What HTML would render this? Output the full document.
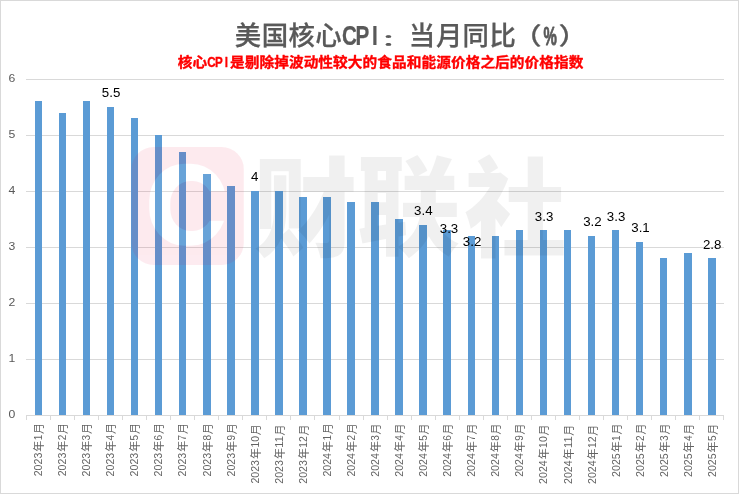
<!DOCTYPE html>
<html lang="zh-CN">
<head>
<meta charset="utf-8">
<title>美国核心CPI：当月同比（%）</title>
<style>
html,body{margin:0;padding:0;background:#fff;}
body{width:739px;height:494px;overflow:hidden;}
svg{display:block;}
text{font-family:"Liberation Sans","Noto Sans CJK SC",sans-serif;}
.wm{font-family:"Liberation Sans","Noto Sans CJK SC",sans-serif;font-weight:900;}
</style>
</head>
<body>
<svg xmlns="http://www.w3.org/2000/svg" width="739" height="494" viewBox="0 0 739 494">
<rect x="0" y="0" width="739" height="494" fill="#ffffff"/>
<rect x="0.5" y="0.5" width="738" height="493" fill="none" stroke="#d9d9d9" stroke-width="1"/>

<g fill="#d9d9d9" shape-rendering="crispEdges">
<rect x="26" y="415" width="698" height="1"/>
<rect x="26" y="359" width="698" height="1"/>
<rect x="26" y="303" width="698" height="1"/>
<rect x="26" y="247" width="698" height="1"/>
<rect x="26" y="191" width="698" height="1"/>
<rect x="26" y="135" width="698" height="1"/>
<rect x="26" y="79" width="698" height="1"/>
<rect x="26" y="415" width="1" height="5"/>
<rect x="50" y="415" width="1" height="5"/>
<rect x="74" y="415" width="1" height="5"/>
<rect x="98" y="415" width="1" height="5"/>
<rect x="122" y="415" width="1" height="5"/>
<rect x="146" y="415" width="1" height="5"/>
<rect x="170" y="415" width="1" height="5"/>
<rect x="194" y="415" width="1" height="5"/>
<rect x="218" y="415" width="1" height="5"/>
<rect x="242" y="415" width="1" height="5"/>
<rect x="266" y="415" width="1" height="5"/>
<rect x="290" y="415" width="1" height="5"/>
<rect x="314" y="415" width="1" height="5"/>
<rect x="339" y="415" width="1" height="5"/>
<rect x="363" y="415" width="1" height="5"/>
<rect x="387" y="415" width="1" height="5"/>
<rect x="411" y="415" width="1" height="5"/>
<rect x="435" y="415" width="1" height="5"/>
<rect x="459" y="415" width="1" height="5"/>
<rect x="483" y="415" width="1" height="5"/>
<rect x="507" y="415" width="1" height="5"/>
<rect x="531" y="415" width="1" height="5"/>
<rect x="555" y="415" width="1" height="5"/>
<rect x="579" y="415" width="1" height="5"/>
<rect x="603" y="415" width="1" height="5"/>
<rect x="627" y="415" width="1" height="5"/>
<rect x="651" y="415" width="1" height="5"/>
<rect x="675" y="415" width="1" height="5"/>
<rect x="699" y="415" width="1" height="5"/>
<rect x="723" y="415" width="1" height="5"/>
</g>
<g fill="#5b9bd5">
<rect x="35" y="101" width="7" height="314"/>
<rect x="59" y="113" width="7" height="302"/>
<rect x="83" y="101" width="7" height="314"/>
<rect x="107" y="107" width="7" height="308"/>
<rect x="131" y="118" width="7" height="297"/>
<rect x="155" y="135" width="7" height="280"/>
<rect x="179" y="152" width="7" height="263"/>
<rect x="203" y="174" width="8" height="241"/>
<rect x="227" y="186" width="8" height="229"/>
<rect x="251" y="191" width="8" height="224"/>
<rect x="275" y="191" width="8" height="224"/>
<rect x="299" y="197" width="8" height="218"/>
<rect x="323" y="197" width="8" height="218"/>
<rect x="347" y="202" width="8" height="213"/>
<rect x="371" y="202" width="8" height="213"/>
<rect x="395" y="219" width="8" height="196"/>
<rect x="419" y="225" width="8" height="190"/>
<rect x="443" y="230" width="8" height="185"/>
<rect x="468" y="236" width="7" height="179"/>
<rect x="492" y="236" width="7" height="179"/>
<rect x="516" y="230" width="7" height="185"/>
<rect x="540" y="230" width="7" height="185"/>
<rect x="564" y="230" width="7" height="185"/>
<rect x="588" y="236" width="7" height="179"/>
<rect x="612" y="230" width="7" height="185"/>
<rect x="636" y="242" width="7" height="173"/>
<rect x="660" y="258" width="7" height="157"/>
<rect x="684" y="253" width="8" height="162"/>
<rect x="708" y="258" width="8" height="157"/>
</g>
<g font-size="11.3" fill="#595959" text-anchor="middle">
<text transform="translate(12,417.9) scale(1.08,1)">0</text>
<text transform="translate(12,361.9) scale(1.08,1)">1</text>
<text transform="translate(12,305.9) scale(1.08,1)">2</text>
<text transform="translate(12,249.9) scale(1.08,1)">3</text>
<text transform="translate(12,193.9) scale(1.08,1)">4</text>
<text transform="translate(12,137.9) scale(1.08,1)">5</text>
<text transform="translate(12,81.9) scale(1.08,1)">6</text>
</g>
<g font-size="12" fill="#636363">
<text transform="translate(43.0,476.3) rotate(-90)"><tspan x="0.0" y="-1" font-size="11.3" textLength="23.6" lengthAdjust="spacingAndGlyphs">2023</tspan><tspan x="24.6" y="0" font-size="11">年</tspan><tspan x="36.0" y="-1" font-size="11.3" textLength="5.6" lengthAdjust="spacingAndGlyphs">1</tspan><tspan x="42.3" y="0" font-size="11">月</tspan></text>
<text transform="translate(67.1,476.3) rotate(-90)"><tspan x="0.0" y="-1" font-size="11.3" textLength="23.6" lengthAdjust="spacingAndGlyphs">2023</tspan><tspan x="24.6" y="0" font-size="11">年</tspan><tspan x="36.0" y="-1" font-size="11.3" textLength="5.6" lengthAdjust="spacingAndGlyphs">2</tspan><tspan x="42.3" y="0" font-size="11">月</tspan></text>
<text transform="translate(91.1,476.4) rotate(-90)"><tspan x="0.0" y="-1" font-size="11.3" textLength="23.6" lengthAdjust="spacingAndGlyphs">2023</tspan><tspan x="24.6" y="0" font-size="11">年</tspan><tspan x="36.0" y="-1" font-size="11.3" textLength="5.6" lengthAdjust="spacingAndGlyphs">3</tspan><tspan x="42.3" y="0" font-size="11">月</tspan></text>
<text transform="translate(115.2,476.4) rotate(-90)"><tspan x="0.0" y="-1" font-size="11.3" textLength="23.6" lengthAdjust="spacingAndGlyphs">2023</tspan><tspan x="24.6" y="0" font-size="11">年</tspan><tspan x="36.0" y="-1" font-size="11.3" textLength="5.6" lengthAdjust="spacingAndGlyphs">4</tspan><tspan x="42.3" y="0" font-size="11">月</tspan></text>
<text transform="translate(139.3,476.4) rotate(-90)"><tspan x="0.0" y="-1" font-size="11.3" textLength="23.6" lengthAdjust="spacingAndGlyphs">2023</tspan><tspan x="24.6" y="0" font-size="11">年</tspan><tspan x="36.0" y="-1" font-size="11.3" textLength="5.6" lengthAdjust="spacingAndGlyphs">5</tspan><tspan x="42.3" y="0" font-size="11">月</tspan></text>
<text transform="translate(163.3,476.4) rotate(-90)"><tspan x="0.0" y="-1" font-size="11.3" textLength="23.6" lengthAdjust="spacingAndGlyphs">2023</tspan><tspan x="24.6" y="0" font-size="11">年</tspan><tspan x="36.0" y="-1" font-size="11.3" textLength="5.6" lengthAdjust="spacingAndGlyphs">6</tspan><tspan x="42.3" y="0" font-size="11">月</tspan></text>
<text transform="translate(187.4,476.4) rotate(-90)"><tspan x="0.0" y="-1" font-size="11.3" textLength="23.6" lengthAdjust="spacingAndGlyphs">2023</tspan><tspan x="24.6" y="0" font-size="11">年</tspan><tspan x="36.0" y="-1" font-size="11.3" textLength="5.6" lengthAdjust="spacingAndGlyphs">7</tspan><tspan x="42.3" y="0" font-size="11">月</tspan></text>
<text transform="translate(211.5,476.5) rotate(-90)"><tspan x="0.0" y="-1" font-size="11.3" textLength="23.6" lengthAdjust="spacingAndGlyphs">2023</tspan><tspan x="24.6" y="0" font-size="11">年</tspan><tspan x="36.0" y="-1" font-size="11.3" textLength="5.6" lengthAdjust="spacingAndGlyphs">8</tspan><tspan x="42.3" y="0" font-size="11">月</tspan></text>
<text transform="translate(235.5,476.5) rotate(-90)"><tspan x="0.0" y="-1" font-size="11.3" textLength="23.6" lengthAdjust="spacingAndGlyphs">2023</tspan><tspan x="24.6" y="0" font-size="11">年</tspan><tspan x="36.0" y="-1" font-size="11.3" textLength="5.6" lengthAdjust="spacingAndGlyphs">9</tspan><tspan x="42.3" y="0" font-size="11">月</tspan></text>
<text transform="translate(259.6,483.6) rotate(-90)"><tspan x="0.0" y="-1" font-size="11.3" textLength="23.6" lengthAdjust="spacingAndGlyphs">2023</tspan><tspan x="24.6" y="0" font-size="11">年</tspan><tspan x="36.0" y="-1" font-size="11.3" textLength="11.6" lengthAdjust="spacingAndGlyphs">10</tspan><tspan x="48.3" y="0" font-size="11">月</tspan></text>
<text transform="translate(283.7,483.7) rotate(-90)"><tspan x="0.0" y="-1" font-size="11.3" textLength="23.6" lengthAdjust="spacingAndGlyphs">2023</tspan><tspan x="24.6" y="0" font-size="11">年</tspan><tspan x="36.0" y="-1" font-size="11.3" textLength="11.6" lengthAdjust="spacingAndGlyphs">11</tspan><tspan x="48.3" y="0" font-size="11">月</tspan></text>
<text transform="translate(307.7,483.7) rotate(-90)"><tspan x="0.0" y="-1" font-size="11.3" textLength="23.6" lengthAdjust="spacingAndGlyphs">2023</tspan><tspan x="24.6" y="0" font-size="11">年</tspan><tspan x="36.0" y="-1" font-size="11.3" textLength="11.6" lengthAdjust="spacingAndGlyphs">12</tspan><tspan x="48.3" y="0" font-size="11">月</tspan></text>
<text transform="translate(331.8,476.6) rotate(-90)"><tspan x="0.0" y="-1" font-size="11.3" textLength="23.6" lengthAdjust="spacingAndGlyphs">2024</tspan><tspan x="24.6" y="0" font-size="11">年</tspan><tspan x="36.0" y="-1" font-size="11.3" textLength="5.6" lengthAdjust="spacingAndGlyphs">1</tspan><tspan x="42.3" y="0" font-size="11">月</tspan></text>
<text transform="translate(355.9,476.6) rotate(-90)"><tspan x="0.0" y="-1" font-size="11.3" textLength="23.6" lengthAdjust="spacingAndGlyphs">2024</tspan><tspan x="24.6" y="0" font-size="11">年</tspan><tspan x="36.0" y="-1" font-size="11.3" textLength="5.6" lengthAdjust="spacingAndGlyphs">2</tspan><tspan x="42.3" y="0" font-size="11">月</tspan></text>
<text transform="translate(380.0,476.7) rotate(-90)"><tspan x="0.0" y="-1" font-size="11.3" textLength="23.6" lengthAdjust="spacingAndGlyphs">2024</tspan><tspan x="24.6" y="0" font-size="11">年</tspan><tspan x="36.0" y="-1" font-size="11.3" textLength="5.6" lengthAdjust="spacingAndGlyphs">3</tspan><tspan x="42.3" y="0" font-size="11">月</tspan></text>
<text transform="translate(404.0,476.7) rotate(-90)"><tspan x="0.0" y="-1" font-size="11.3" textLength="23.6" lengthAdjust="spacingAndGlyphs">2024</tspan><tspan x="24.6" y="0" font-size="11">年</tspan><tspan x="36.0" y="-1" font-size="11.3" textLength="5.6" lengthAdjust="spacingAndGlyphs">4</tspan><tspan x="42.3" y="0" font-size="11">月</tspan></text>
<text transform="translate(428.1,476.7) rotate(-90)"><tspan x="0.0" y="-1" font-size="11.3" textLength="23.6" lengthAdjust="spacingAndGlyphs">2024</tspan><tspan x="24.6" y="0" font-size="11">年</tspan><tspan x="36.0" y="-1" font-size="11.3" textLength="5.6" lengthAdjust="spacingAndGlyphs">5</tspan><tspan x="42.3" y="0" font-size="11">月</tspan></text>
<text transform="translate(452.2,476.7) rotate(-90)"><tspan x="0.0" y="-1" font-size="11.3" textLength="23.6" lengthAdjust="spacingAndGlyphs">2024</tspan><tspan x="24.6" y="0" font-size="11">年</tspan><tspan x="36.0" y="-1" font-size="11.3" textLength="5.6" lengthAdjust="spacingAndGlyphs">6</tspan><tspan x="42.3" y="0" font-size="11">月</tspan></text>
<text transform="translate(476.2,476.8) rotate(-90)"><tspan x="0.0" y="-1" font-size="11.3" textLength="23.6" lengthAdjust="spacingAndGlyphs">2024</tspan><tspan x="24.6" y="0" font-size="11">年</tspan><tspan x="36.0" y="-1" font-size="11.3" textLength="5.6" lengthAdjust="spacingAndGlyphs">7</tspan><tspan x="42.3" y="0" font-size="11">月</tspan></text>
<text transform="translate(500.3,476.8) rotate(-90)"><tspan x="0.0" y="-1" font-size="11.3" textLength="23.6" lengthAdjust="spacingAndGlyphs">2024</tspan><tspan x="24.6" y="0" font-size="11">年</tspan><tspan x="36.0" y="-1" font-size="11.3" textLength="5.6" lengthAdjust="spacingAndGlyphs">8</tspan><tspan x="42.3" y="0" font-size="11">月</tspan></text>
<text transform="translate(524.4,476.8) rotate(-90)"><tspan x="0.0" y="-1" font-size="11.3" textLength="23.6" lengthAdjust="spacingAndGlyphs">2024</tspan><tspan x="24.6" y="0" font-size="11">年</tspan><tspan x="36.0" y="-1" font-size="11.3" textLength="5.6" lengthAdjust="spacingAndGlyphs">9</tspan><tspan x="42.3" y="0" font-size="11">月</tspan></text>
<text transform="translate(548.4,483.9) rotate(-90)"><tspan x="0.0" y="-1" font-size="11.3" textLength="23.6" lengthAdjust="spacingAndGlyphs">2024</tspan><tspan x="24.6" y="0" font-size="11">年</tspan><tspan x="36.0" y="-1" font-size="11.3" textLength="11.6" lengthAdjust="spacingAndGlyphs">10</tspan><tspan x="48.3" y="0" font-size="11">月</tspan></text>
<text transform="translate(572.5,484.0) rotate(-90)"><tspan x="0.0" y="-1" font-size="11.3" textLength="23.6" lengthAdjust="spacingAndGlyphs">2024</tspan><tspan x="24.6" y="0" font-size="11">年</tspan><tspan x="36.0" y="-1" font-size="11.3" textLength="11.6" lengthAdjust="spacingAndGlyphs">11</tspan><tspan x="48.3" y="0" font-size="11">月</tspan></text>
<text transform="translate(596.6,484.0) rotate(-90)"><tspan x="0.0" y="-1" font-size="11.3" textLength="23.6" lengthAdjust="spacingAndGlyphs">2024</tspan><tspan x="24.6" y="0" font-size="11">年</tspan><tspan x="36.0" y="-1" font-size="11.3" textLength="11.6" lengthAdjust="spacingAndGlyphs">12</tspan><tspan x="48.3" y="0" font-size="11">月</tspan></text>
<text transform="translate(620.6,476.9) rotate(-90)"><tspan x="0.0" y="-1" font-size="11.3" textLength="23.6" lengthAdjust="spacingAndGlyphs">2025</tspan><tspan x="24.6" y="0" font-size="11">年</tspan><tspan x="36.0" y="-1" font-size="11.3" textLength="5.6" lengthAdjust="spacingAndGlyphs">1</tspan><tspan x="42.3" y="0" font-size="11">月</tspan></text>
<text transform="translate(644.7,476.9) rotate(-90)"><tspan x="0.0" y="-1" font-size="11.3" textLength="23.6" lengthAdjust="spacingAndGlyphs">2025</tspan><tspan x="24.6" y="0" font-size="11">年</tspan><tspan x="36.0" y="-1" font-size="11.3" textLength="5.6" lengthAdjust="spacingAndGlyphs">2</tspan><tspan x="42.3" y="0" font-size="11">月</tspan></text>
<text transform="translate(668.8,476.9) rotate(-90)"><tspan x="0.0" y="-1" font-size="11.3" textLength="23.6" lengthAdjust="spacingAndGlyphs">2025</tspan><tspan x="24.6" y="0" font-size="11">年</tspan><tspan x="36.0" y="-1" font-size="11.3" textLength="5.6" lengthAdjust="spacingAndGlyphs">3</tspan><tspan x="42.3" y="0" font-size="11">月</tspan></text>
<text transform="translate(692.8,477.0) rotate(-90)"><tspan x="0.0" y="-1" font-size="11.3" textLength="23.6" lengthAdjust="spacingAndGlyphs">2025</tspan><tspan x="24.6" y="0" font-size="11">年</tspan><tspan x="36.0" y="-1" font-size="11.3" textLength="5.6" lengthAdjust="spacingAndGlyphs">4</tspan><tspan x="42.3" y="0" font-size="11">月</tspan></text>
<text transform="translate(716.9,477.0) rotate(-90)"><tspan x="0.0" y="-1" font-size="11.3" textLength="23.6" lengthAdjust="spacingAndGlyphs">2025</tspan><tspan x="24.6" y="0" font-size="11">年</tspan><tspan x="36.0" y="-1" font-size="11.3" textLength="5.6" lengthAdjust="spacingAndGlyphs">5</tspan><tspan x="42.3" y="0" font-size="11">月</tspan></text>
</g>
<g opacity="0.078">
<rect x="131.5" y="147" width="112.3" height="118" rx="22" ry="22" fill="#e8003a"/>
<rect x="149.2" y="163.7" width="76.8" height="82" rx="35" ry="37" fill="#ffffff"/>
<rect x="170.3" y="181" width="42.5" height="50" rx="20" ry="22" fill="#e8003a"/>
<rect x="195" y="191.3" width="36" height="29.5" fill="#e8003a"/>
</g>
<g font-weight="900" fill="#000000" opacity="0.056">
<text transform="translate(253.43,247.52) scale(0.958,1)" font-size="108.21" font-weight="900">财</text>
<text transform="translate(357.02,245.90) scale(0.952,1)" font-size="108.21" font-weight="900">联</text>
<text transform="translate(464.38,247.58) scale(0.947,1)" font-size="107.6" font-weight="900">社</text>
</g>
<g font-size="12.3" fill="#000000" text-anchor="middle">
<text transform="translate(111.1,97.0) scale(1.08,1)">5.5</text>
<text transform="translate(254.6,181.2) scale(1.08,1)">4</text>
<text transform="translate(423.3,214.9) scale(1.08,1)">3.4</text>
<text transform="translate(449.0,232.8) scale(1.08,1)">3.3</text>
<text transform="translate(472.1,246.0) scale(1.08,1)">3.2</text>
<text transform="translate(544.1,221.0) scale(1.08,1)">3.3</text>
<text transform="translate(592.4,226.1) scale(1.08,1)">3.2</text>
<text transform="translate(616.1,221.0) scale(1.08,1)">3.3</text>
<text transform="translate(640.5,232.0) scale(1.08,1)">3.1</text>
<text transform="translate(712.2,249.0) scale(1.08,1)">2.8</text>
</g>
<g font-weight="500" fill="#595959" stroke="#595959" stroke-width="0.25" stroke-linejoin="round">
<text transform="translate(234.80,45.10)" x="0.00 27.00 53.80 80.50" font-size="26.4">美国核心</text>
<text transform="translate(341.92,44.70) scale(0.770,1)" x="0.00 17.68 39.22" font-size="26.8" font-weight="700">CPI</text>
<text transform="translate(381.58,44.85) scale(1.851,1)" font-size="15.07" font-weight="700">：</text>
<text transform="translate(408.80,45.10)" x="0.00 27.20 53.60 80.80" font-size="26.4">当月同比</text>
<text transform="translate(512.27,43.63) scale(1.234,1)" font-size="23.87" font-weight="500">（</text>
<text transform="translate(543.42,44.64) scale(0.584,1)" font-size="25.67" font-weight="700" stroke-width="0.9">%</text>
<text transform="translate(558.57,43.63) scale(1.234,1)" font-size="23.87" font-weight="500">）</text>
</g>
<g font-weight="bold" fill="#ff0000" stroke="#ff0000" stroke-width="0.35" stroke-linejoin="round">
<text transform="translate(177.70,67.00) scale(1.070,1)" x="0.00 13.83" font-size="13.7">核心</text>
<text transform="translate(207.23,67.10) scale(0.780,1)" x="0.00 10.00 22.47" font-size="14.9" font-weight="700">CPI</text>
<text transform="translate(230.00,67.00) scale(1.070,1)" x="0.00 13.77 27.53 41.30 55.07 68.83 82.60 96.36 110.13 123.90 137.66 151.43 165.20 178.96 192.73 206.50 220.26 234.03 247.79 261.56 275.33 289.09 302.86 316.63" font-size="13.7">是剔除掉波动性较大的食品和能源价格之后的价格指数</text>
</g>
</svg>
</body>
</html>
